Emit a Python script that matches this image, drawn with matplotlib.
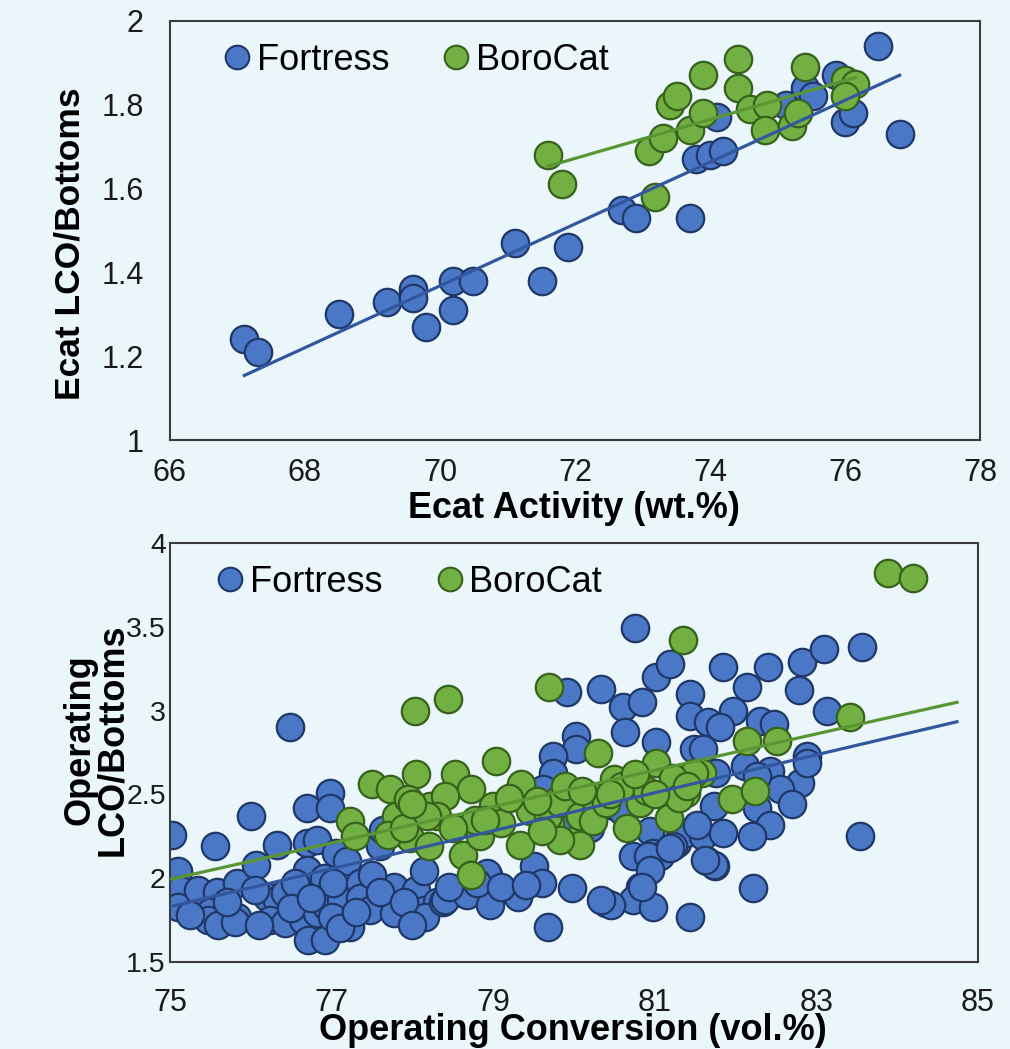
import numpy as np
import matplotlib
matplotlib.use("Agg")
import matplotlib.pyplot as plt
from matplotlib.lines import Line2D

plt.rcParams['font.family'] = ['Liberation Sans', 'DejaVu Sans']

# ---- top panel: Ecat activity vs Ecat LCO/Bottoms ----
ecat_fortress_x = [67.10, 67.31, 68.51, 69.21, 69.60, 69.60, 69.80, 70.20, 70.20, 70.49,
                   71.11, 71.51, 71.90, 72.69, 72.91, 73.70, 73.80, 74.00, 74.20, 74.10,
                   75.13, 75.41, 75.53, 75.87, 76.00, 76.12, 76.49, 76.81]
ecat_fortress_y = [1.24, 1.21, 1.30, 1.33, 1.36, 1.34, 1.27, 1.38, 1.31, 1.38,
                   1.47, 1.38, 1.46, 1.55, 1.53, 1.53, 1.67, 1.68, 1.69, 1.77,
                   1.80, 1.84, 1.82, 1.87, 1.76, 1.78, 1.94, 1.73]
ecat_boro_x = [71.60, 71.81, 73.10, 73.31, 73.19, 73.70, 73.41, 73.51, 73.90, 73.90,
               74.42, 74.42, 74.59, 74.84, 74.81, 75.21, 75.31, 75.41, 76.00, 76.15, 76.00]
ecat_boro_y = [1.68, 1.61, 1.69, 1.72, 1.58, 1.74, 1.80, 1.82, 1.87, 1.78,
               1.91, 1.84, 1.79, 1.80, 1.74, 1.75, 1.78, 1.89, 1.86, 1.85, 1.82]

# trend lines (slope, intercept, x range)
ecat_fortress_fit = [0.0738, -3.798, 67.10, 76.81]
ecat_boro_fit = [0.0465, -1.676, 71.60, 76.15]

# ---- bottom panel: operating conversion vs operating LCO/Bottoms ----
op_fortress_x = [75.02, 75.10, 75.12, 75.10, 75.35, 75.58, 75.50, 75.47, 75.60, 75.56,
                 75.83, 75.83, 76.00, 76.07, 76.20, 76.32, 76.42, 76.24, 76.42, 76.32,
                 76.49, 76.65, 76.69, 76.98, 76.98, 76.69, 76.82, 77.06, 77.19, 76.69,
                 76.90, 76.82, 76.94, 77.12, 77.02, 76.71, 76.92, 77.35, 77.35, 77.23,
                 77.48, 77.60, 77.64, 77.77, 77.77, 78.05, 78.14, 78.14, 78.30, 78.16,
                 78.38, 78.63, 78.40, 78.67, 78.94, 78.96, 79.31, 79.50, 79.60, 79.68,
                 79.97, 78.92, 76.55, 77.50, 75.80, 76.10, 77.00, 75.25, 75.70, 76.05,
                 76.50, 76.75, 77.10, 77.30, 77.60, 77.90, 78.00, 78.45, 78.80, 79.10,
                 79.40,
                 79.91, 80.34, 80.61, 80.84, 80.63, 81.02, 81.19, 81.44, 81.44, 81.02,
                 80.03, 80.03, 79.74, 79.74, 79.62, 81.48, 80.73, 80.94, 80.98, 80.82,
                 80.73, 80.98, 80.40, 80.46, 81.27, 81.39, 81.44, 81.06, 81.23, 80.76,
                 80.49, 80.92, 80.94, 81.19, 81.60, 81.64, 81.75, 80.20, 80.50, 80.34,
                 81.85, 82.40, 82.14, 82.82, 83.09, 83.56, 82.78, 83.13, 81.66, 81.97,
                 82.30, 82.47, 81.81, 81.60, 82.88, 82.12, 82.43, 82.80, 82.55, 82.70,
                 82.26, 82.43, 82.20, 81.85, 81.73, 81.73, 81.62, 82.22, 83.54, 81.76,
                 82.88, 82.26, 81.52, 80.84, 80.60, 80.00, 79.90, 80.70]
op_fortress_y = [2.26, 2.04, 1.93, 1.83, 1.93, 1.92, 1.80, 1.75, 1.72, 2.19,
                 1.97, 1.77, 2.37, 2.08, 1.89, 1.87, 1.91, 1.75, 1.73, 2.20,
                 2.90, 1.75, 2.42, 2.51, 2.42, 2.21, 2.23, 2.15, 2.10, 2.05,
                 2.00, 1.79, 1.83, 1.87, 1.97, 1.63, 1.63, 1.97, 1.88, 1.71,
                 1.81, 2.19, 2.29, 1.95, 1.79, 1.93, 2.04, 1.81, 1.86, 1.77,
                 1.86, 1.91, 1.87, 1.90, 2.02, 1.84, 1.89, 2.07, 1.97, 1.71,
                 1.94, 2.03, 1.97, 2.02, 1.74, 1.72, 1.77, 1.78, 1.86, 1.93,
                 1.82, 1.88, 1.70, 1.80, 1.92, 1.86, 1.72, 1.95, 1.97, 1.95,
                 1.96,
                 3.11, 3.13, 3.02, 3.05, 2.87, 3.20, 3.28, 3.10, 2.97, 2.81,
                 2.85, 2.77, 2.73, 2.63, 2.53, 2.77, 2.13, 2.28, 2.15, 1.95,
                 1.87, 1.83, 1.85, 1.84, 2.21, 2.27, 1.77, 2.13, 2.19, 3.49,
                 2.43, 2.13, 2.05, 2.18, 2.25, 2.10, 2.07, 2.30, 2.52, 1.87,
                 3.26, 3.26, 3.14, 3.29, 3.37, 3.38, 3.12, 3.00, 2.93, 3.00,
                 2.94, 2.92, 2.90, 2.77, 2.73, 2.67, 2.64, 2.57, 2.53, 2.44,
                 2.42, 2.32, 2.25, 2.27, 2.43, 2.08, 2.11, 1.94, 2.25, 2.63,
                 2.69, 2.61, 2.32, 1.95, 2.40, 2.50, 2.35, 2.55]
op_boro_x = [83.89, 84.19, 81.35, 79.69, 78.44, 78.03, 83.42, 82.14, 82.51, 81.58,
             81.95, 82.24, 81.39, 80.65, 81.17, 81.02, 81.48, 81.23, 80.30, 77.50,
             77.72, 78.05, 78.53, 78.73, 79.04, 79.35, 77.23, 77.29, 77.80, 77.97,
             78.22, 78.40, 78.30, 78.20, 78.63, 78.73, 78.84, 79.00, 79.33, 79.47,
             79.70, 79.81, 80.03, 78.18, 78.77, 79.46, 79.10, 79.68, 79.83, 79.89,
             80.07, 80.22, 80.07, 80.24, 80.49, 80.82, 79.83, 79.54, 77.95, 77.70,
             78.90, 79.20, 80.40, 80.60, 80.90, 81.30, 81.40, 79.60, 80.10, 78.50,
             77.90, 78.00, 81.00, 80.75, 80.45]
op_boro_y = [3.82, 3.79, 3.42, 3.14, 3.07, 3.00, 2.96, 2.82, 2.82, 2.63,
             2.47, 2.52, 2.51, 2.30, 2.36, 2.69, 2.63, 2.60, 2.75, 2.56,
             2.53, 2.62, 2.62, 2.53, 2.70, 2.56, 2.34, 2.25, 2.37, 2.24,
             2.43, 2.49, 2.37, 2.19, 2.14, 2.02, 2.25, 2.43, 2.20, 2.41,
             2.33, 2.47, 2.23, 2.37, 2.35, 2.40, 2.33, 2.37, 2.45, 2.55,
             2.37, 2.49, 2.20, 2.34, 2.59, 2.45, 2.23, 2.46, 2.47, 2.26,
             2.35, 2.48, 2.45, 2.55, 2.52, 2.48, 2.55, 2.28, 2.52, 2.30,
             2.30, 2.44, 2.50, 2.62, 2.50]

op_fortress_fit = [0.1133, -6.6675, 75.0, 84.74]
op_boro_fit = [0.1085, -6.1445, 75.0, 84.74]

BG = '#EBF6FB'
BLUE, BLUE_EDGE, BLUE_LINE = '#4A78C6', '#1F3868', '#33579E'
GREEN, GREEN_EDGE, GREEN_LINE = '#72B043', '#36621C', '#5A9534'
MS = 390


def draw_panel(ax, fx, fy, bx, by, ffit, bfit, leg_x):
    ax.set_facecolor(BG)
    ax.scatter(fx, fy, s=MS, c=BLUE, edgecolors=BLUE_EDGE, linewidths=1.6, zorder=2)
    ax.scatter(bx, by, s=MS, c=GREEN, edgecolors=GREEN_EDGE, linewidths=1.6, zorder=3)
    for fit, col in ((ffit, BLUE_LINE), (bfit, GREEN_LINE)):
        xs = np.array(fit[2:])
        ax.plot(xs, fit[0] * xs + fit[1], color=col, lw=2.3, zorder=4)
    for sp in ax.spines.values():
        sp.set_color('#3c3c3c')
        sp.set_linewidth(1.5)
    ax.tick_params(length=0, labelsize=22, colors='#1a1a1a')
    handles = [Line2D([], [], ls='', marker='o', ms=17, mfc=BLUE, mec=BLUE_EDGE, mew=1.5),
               Line2D([], [], ls='', marker='o', ms=17, mfc=GREEN, mec=GREEN_EDGE, mew=1.5)]
    ax.legend(handles, ['Fortress', 'BoroCat'], loc='upper left', bbox_to_anchor=(leg_x, 1.025),
              ncol=2, frameon=False, fontsize=26, handletextpad=0.0, columnspacing=1.3,
              handlelength=1.1)


fig = plt.figure(figsize=(10.10, 10.49), dpi=100, facecolor=BG)

ax1 = fig.add_axes([170 / 1010, 1 - 440 / 1049, 810 / 1010, 419 / 1049])
draw_panel(ax1, ecat_fortress_x, ecat_fortress_y, ecat_boro_x, ecat_boro_y,
           ecat_fortress_fit, ecat_boro_fit, 0.018)
ax1.set_xlim(66, 78)
ax1.set_ylim(1, 2)
ax1.set_xticks(np.arange(66, 79, 2))
ax1.set_yticks([1, 1.2, 1.4, 1.6, 1.8, 2])
ax1.set_yticklabels(['1', '1.2', '1.4', '1.6', '1.8', '2'])
ax1.tick_params(axis='y', pad=19)
ax1.tick_params(axis='x', pad=13)

ax2 = fig.add_axes([170 / 1010, 1 - 962 / 1049, 808 / 1010, 419 / 1049])
draw_panel(ax2, op_fortress_x, op_fortress_y, op_boro_x, op_boro_y,
           op_fortress_fit, op_boro_fit, 0.010)
ax2.set_xlim(75, 85)
ax2.set_ylim(1.5, 4)
ax2.set_xticks(np.arange(75, 86, 2))
ax2.set_yticks([1.5, 2, 2.5, 3, 3.5, 4])
ax2.set_yticklabels(['1.5', '2', '2.5', '3', '3.5', '4'])
ax2.tick_params(axis='y', pad=3, labelsize=20.5)
ax2.tick_params(axis='x', pad=19)

fig.text(0.568, 1 - 508 / 1049, 'Ecat Activity (wt.%)', ha='center', va='center',
         fontsize=26, fontweight='bold')
fig.text(70 / 1010, 1 - 244 / 1049, 'Ecat LCO/Bottoms', ha='center', va='center',
         rotation=90, fontsize=25.5, fontweight='bold')
fig.text(0.567, 1 - 1030 / 1049, 'Operating Conversion (vol.%)', ha='center', va='center',
         fontsize=26, fontweight='bold')
fig.text(96 / 1010, 1 - 740 / 1049, 'Operating\nLCO/Bottoms', ha='center', va='center',
         rotation=90, fontsize=26, fontweight='bold', linespacing=0.9)

fig.savefig('out.png', dpi=100, facecolor=BG)
